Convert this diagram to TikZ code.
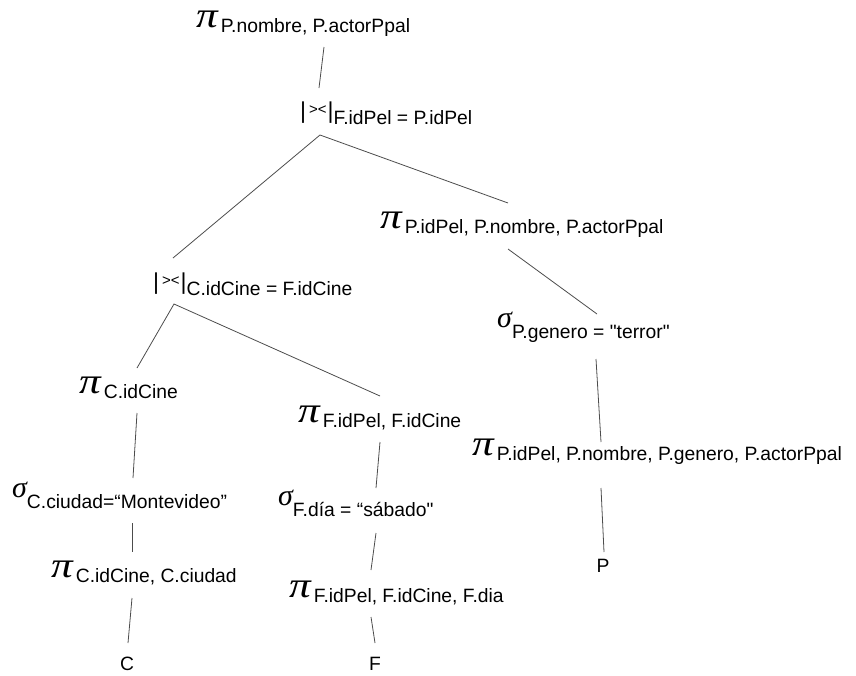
\documentclass[tikz,border=0pt]{standalone}
\usepackage{fontspec}
\setmainfont{Liberation Sans}[Ligatures=TeXOff]
\newfontfamily\greekfont{Liberation Serif}

\newcommand\subtxt[1]{{\fontsize{19.3}{20}\selectfont #1}}
\newcommand\projop[1]{{\greekfont\itshape\fontsize{36}{36}\selectfont\scalebox{1.2}[1]{π}}\kern3pt\raisebox{-5pt}{\subtxt{#1}}}
\newcommand\selop[1]{{\greekfont\itshape\fontsize{30}{30}\selectfont σ}\kern0pt\raisebox{-11pt}{\subtxt{#1}}}
\newcommand\semiop[1]{{\fontsize{23}{23}\selectfont |\kern3pt\raisebox{4pt}{\fontsize{15}{15}\selectfont ><}\kern1pt|}\kern0pt\raisebox{-6pt}{\subtxt{#1}}}

\begin{document}
\begin{tikzpicture}[x=1pt, y=-1pt,
    every node/.style={inner sep=0pt, anchor=base west},
    leaf/.style={anchor=base},
    edge/.style={black!70, line width=0.8pt}]
\useasboundingbox (0,0) rectangle (856,675);

% operators
\node (root)  at (196,27)  {\projop{P.nombre, P.actorPpal}};
\node (semi1) at (300,118) {\semiop{F.idPel = P.idPel}};
\node (projP) at (380,228) {\projop{P.idPel, P.nombre, P.actorPpal}};
\node (selP)  at (497,327) {\selop{P.genero = "terror"}};
\node (projP2) at (472,455) {\projop{P.idPel, P.nombre, P.genero, P.actorPpal}};
\node (semi2) at (153,289) {\semiop{C.idCine = F.idCine}};
\node (projC) at (79,393)  {\projop{C.idCine}};
\node (selC)  at (12,497)  {\selop{C.ciudad=“Montevideo”}};
\node (projC2) at (51,577) {\projop{C.idCine, C.ciudad}};
\node (projF) at (298,422) {\projop{F.idPel, F.idCine}};
\node (selF)  at (278,505) {\selop{F.día = “sábado"}};
\node (projF2) at (289,597) {\projop{F.idPel, F.idCine, F.dia}};

% relations
\node[leaf] (relP) at (603,572) {\subtxt{P}};
\node[leaf] (relC) at (127,670) {\subtxt{C}};
\node[leaf] (relF) at (375,670) {\subtxt{F}};

% line ends
\foreach \n/\x/\y in {root-dn/324/47, semi1-up/319/88, semi1-dn/320/135,
    semi2-up/173/258, projP-up/508/203, projP-dn/508/249, selP-up/597/314,
    selP-dn/596/359, projP2-up/601/442, projP2-dn/601/488, relP-up/604/552,
    semi2-dn/174/304, projC-up/137/368, projF-up/380/396,
    projC-dn/137/413, selC-up/133/478, selC-dn/132/523, projC2-up/132/552,
    projC2-dn/132/598, relC-up/128/643,
    projF-dn/380/442, selF-up/376/488, selF-dn/376/533, projF2-up/371/570,
    projF2-dn/371/617, relF-up/375/643}
  \coordinate (\n) at (\x,\y);

\draw[edge] (root-dn) -- (semi1-up);
\draw[edge] (semi2-up) -- (semi1-dn) -- (projP-up);
\draw[edge] (projP-dn) -- (selP-up);
\draw[edge] (selP-dn) -- (projP2-up);
\draw[edge] (projP2-dn) -- (relP-up);
\draw[edge] (projC-up) -- (semi2-dn) -- (projF-up);
\draw[edge] (projC-dn) -- (selC-up);
\draw[edge] (selC-dn) -- (projC2-up);
\draw[edge] (projC2-dn) -- (relC-up);
\draw[edge] (projF-dn) -- (selF-up);
\draw[edge] (selF-dn) -- (projF2-up);
\draw[edge] (projF2-dn) -- (relF-up);
\end{tikzpicture}
\end{document}
